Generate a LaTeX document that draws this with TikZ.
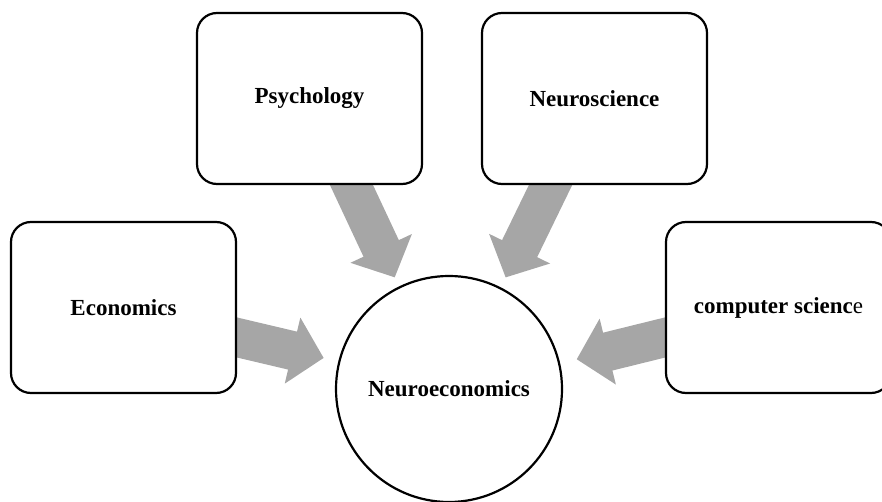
\documentclass[tikz,border=0pt]{standalone}
\usepackage{fontspec}
\setmainfont{Liberation Serif}
\usetikzlibrary{arrows.meta,calc}
\definecolor{arrowgray}{HTML}{A6A6A6}
\pgfdeclarelayer{background}
\pgfsetlayers{background,main}
\begin{document}
\begin{tikzpicture}[x=1pt,y=-1pt,
  box/.style={draw,line width=2.2pt,rounded corners=20pt,fill=white,minimum width=225pt,minimum height=171pt,inner sep=0pt,font=\fontsize{23}{27}\selectfont\bfseries},
  hub/.style={draw,circle,line width=2.2pt,fill=white,minimum size=226pt,inner sep=0pt,font=\fontsize{23}{27}\selectfont\bfseries},
  flow/.style={draw=arrowgray,line width=39pt,-{Triangle[length=32pt,width=66pt]},shorten <=-15pt}]
\useasboundingbox (0,0) rectangle (882,502);
\clip (0,0) rectangle (882,502);
\node[box] (psy) at (309.5,98.5) {Psychology};
\node[box] (neu) at (594.5,98.5) {Neuroscience};
\node[box] (eco) at (123.5,307.5) {Economics};
\node[box] (cs) at (778.5,307.5) {computer scienc\textmd{e}};
\node[hub] (ne) at (449,389) {Neuroeconomics};
\begin{pgfonlayer}{background}
\draw[flow,shorten >=10pt] ($(psy.south)+(42,0)$) -- (ne.116);
\draw[flow,shorten >=11pt] ($(neu.south)+(-44,0)$) -- (ne.63);
\draw[flow,shorten >=15pt] ($(eco.east)+(0,30)$) -- (ne.166);
\draw[flow,shorten >=17pt] ($(cs.west)+(0,30)$) -- (ne.13);
\end{pgfonlayer}
\end{tikzpicture}
\end{document}
